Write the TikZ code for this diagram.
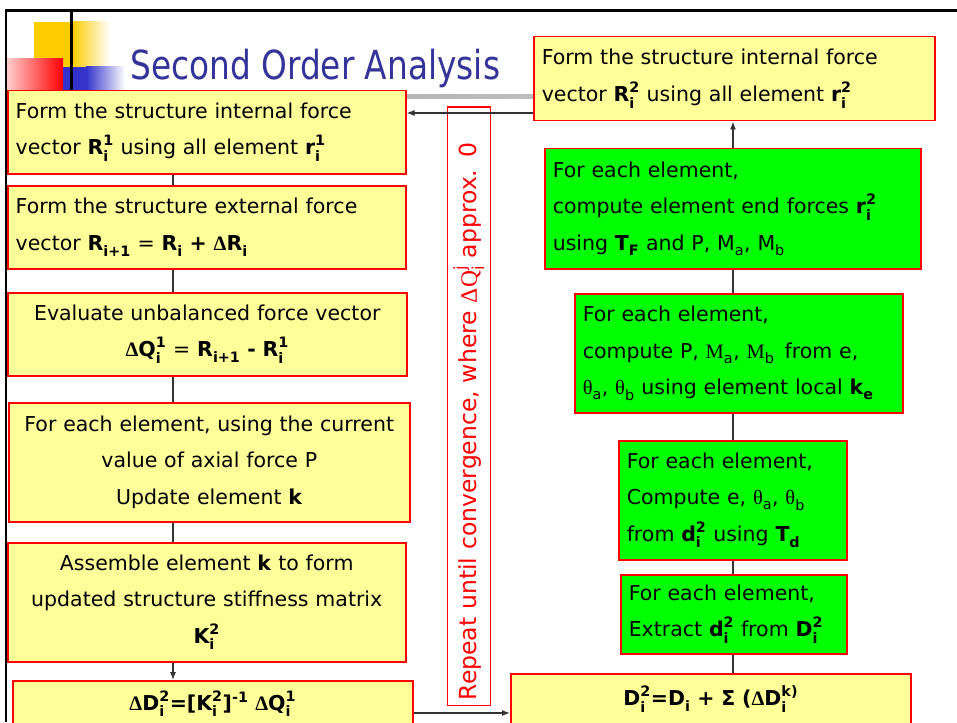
\documentclass[tikz,border=0pt]{standalone}
\usepackage{fontspec}
\setmainfont{DejaVu Sans}
\newfontfamily\symfont{Liberation Serif}
\newfontfamily\titlefont[FakeStretch=0.82]{DejaVu Sans}
\usetikzlibrary{arrows.meta}
\definecolor{boxyellow}{HTML}{FFFF99}
\definecolor{boxgreen}{HTML}{00FF00}
\definecolor{titleblue}{HTML}{333399}
\definecolor{decoyellow}{HTML}{FFCC00}
\definecolor{decoblue}{HTML}{3333CC}
% stacked subscript and superscript
\newcommand\subsup[2]{\rlap{\raisebox{-0.14em}{\textsubscript{#1}}}\raisebox{0.08em}{\textsuperscript{#2}}}
\newcommand\lowsub[1]{\raisebox{-0.1em}{\textsubscript{#1}}}
\newcommand\sy[1]{{\symfont #1}}

\begin{document}
\begin{tikzpicture}[x=1pt, y=-1pt,
  flow/.style={rectangle, draw=red, line width=1.5pt, inner xsep=8pt, inner ysep=0pt,
               anchor=north west, font=\fontsize{20.5}{36.5}\selectfont},
  ybox/.style={flow, fill=boxyellow},
  gbox/.style={flow, fill=boxgreen, align=left},
  link/.style={line width=1.2pt, draw=black!80},
  arrow/.style={link, -{Latex[length=8pt,width=6pt]}},
]
\useasboundingbox (0,0) rectangle (957,722);
% slide frame and corner decoration
\draw[line width=3pt] (5,11) -- (957,11);
\draw[line width=2pt] (6,11) -- (6,722);
\fill[decoyellow] (34,22) rectangle (72,67);
\shade[left color=decoyellow, right color=white] (72,22) rectangle (110,67);
\shade[left color=red!20, right color=red] (7,59) rectangle (63,90);
\fill[decoblue] (63,67) rectangle (86,90);
\shade[left color=decoblue, right color=white] (86,67) rectangle (125,90);
\draw[line width=3pt] (71,11) -- (71,90);
\shade[left color=gray!70, right color=gray!35] (130,94.5) rectangle (900,98.5);
\node[anchor=base west, inner sep=0pt, text=titleblue,
      font=\titlefont\fontsize{40}{44}\selectfont] (title) at (130,80) {Second Order Analysis};

% repeat note
\node[draw=red, line width=1.5pt, rotate=90, anchor=south west, text=red,
      minimum width=598pt, minimum height=43pt, text width=588pt, inner xsep=5pt,
      align=left, font=\fontsize{23.5}{26}\selectfont] (repeat) at (491,706)
  {Repeat until convergence, where \sy{ΔQ}\subsup{i}{j} approx. 0};

% left column
\node[ybox, text width=382pt, minimum height=83pt, align=left] (intone) at (7,90)
  {Form the structure internal force\\
   vector \textbf{R\subsup{i}{1}} using all element \textbf{r\subsup{i}{1}}};
\node[ybox, text width=382pt, minimum height=83pt, align=left] (extforce) at (7,185)
  {Form the structure external force\\
   vector \textbf{R\lowsub{i+1}} = \textbf{R\lowsub{i} + \sy{Δ}R\lowsub{i}}};
\node[ybox, text width=383pt, minimum height=83pt, align=center] (unbal) at (7,292)
  {Evaluate unbalanced force vector\\
   \textbf{\sy{Δ}Q\subsup{i}{1}} = \textbf{R\lowsub{i+1} - R\subsup{i}{1}}};
\node[ybox, text width=385pt, minimum height=119pt, align=center] (update) at (8,402)
  {For each element, using the current\\
   value of axial force P\\
   Update element \textbf{k}};
\node[ybox, text width=382pt, minimum height=119pt, align=center] (assemble) at (7,542)
  {Assemble element \textbf{k} to form\\
   updated structure stiffness matrix\\
   \textbf{K\subsup{i}{2}}};
\node[ybox, text width=384pt, minimum height=46pt, align=center] (solve) at (12,680)
  {\textbf{\sy{Δ}D\subsup{i}{2}=[K\subsup{i}{2}]\textsuperscript{-1} \sy{Δ}Q\subsup{i}{1}}};

% right column
\node[ybox, text width=385pt, minimum height=84pt, align=left] (inttwo) at (533,36)
  {Form the structure internal force\\
   vector \textbf{R\subsup{i}{2}} using all element \textbf{r\subsup{i}{2}}};
\node[gbox, text width=360pt, minimum height=120pt] (endforce) at (544,148)
  {For each element,\\
   compute element end forces \textbf{r\subsup{i}{2}}\\
   using \textbf{T\lowsub{F}} and P, M\lowsub{a}, M\lowsub{b}};
\node[gbox, text width=312pt, minimum height=119pt] (moments) at (574,293)
  {For each element,\\
   compute P, \sy{M}\lowsub{a}, \sy{M}\lowsub{b}\, from e,\\
   \sy{θ}\lowsub{a}, \sy{θ}\lowsub{b} using element local \textbf{k\lowsub{e}}};
\node[gbox, text width=212pt, minimum height=119pt] (rotations) at (618,440)
  {For each element,\\
   Compute e, \sy{θ}\lowsub{a}, \sy{θ}\lowsub{b}\\
   from \textbf{d\subsup{i}{2}} using \textbf{T\lowsub{d}}};
\node[gbox, text width=210pt, minimum height=79pt] (extract) at (620,574)
  {For each element,\\
   Extract \textbf{d\subsup{i}{2}} from \textbf{D\subsup{i}{2}}};
\node[ybox, text width=384pt, minimum height=51pt, align=center] (total) at (510,673)
  {\textbf{D\subsup{i}{2}=D\lowsub{i} + Σ (\sy{Δ}D\subsup{i}{k)}}};

% connectors
\coordinate (lspine) at (173,0);
\coordinate (rspine) at (733,0);
\coordinate (backrow) at (0,113);
\coordinate (crossrow) at (0,713);
\draw[link] (intone.south -| lspine) -- (extforce.north -| lspine);
\draw[link] (extforce.south -| lspine) -- (unbal.north -| lspine);
\draw[link] (unbal.south -| lspine) -- (update.north -| lspine);
\draw[link] (update.south -| lspine) -- (assemble.north -| lspine);
\draw[arrow] (assemble.south -| lspine) -- (solve.north -| lspine);
\draw[arrow] (solve.east |- crossrow) -- (total.west |- crossrow);
\draw[link] (total.north -| rspine) -- (extract.south -| rspine);
\draw[link] (extract.north -| rspine) -- (rotations.south -| rspine);
\draw[link] (rotations.north -| rspine) -- (moments.south -| rspine);
\draw[link] (moments.north -| rspine) -- (endforce.south -| rspine);
\draw[arrow] (endforce.north -| rspine) -- (inttwo.south -| rspine);
\draw[arrow] (inttwo.west |- backrow) -- (intone.east |- backrow);
\end{tikzpicture}
\end{document}
